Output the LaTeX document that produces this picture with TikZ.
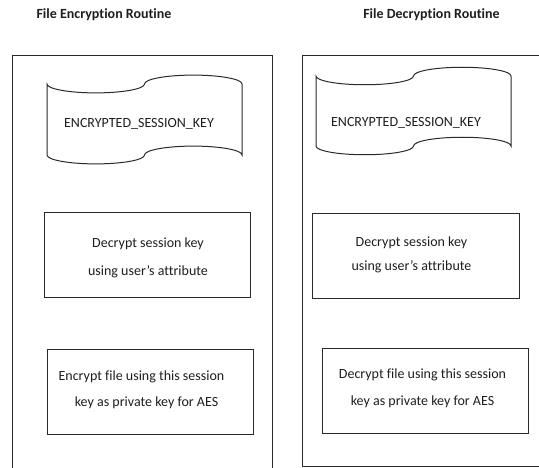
\documentclass[tikz,border=0pt]{standalone}
\usepackage{fontspec}
\setmainfont{Carlito}[Ligatures=NoCommon]
\definecolor{ink}{HTML}{1E1E1E}
\definecolor{edge}{HTML}{2A2A2A}

% Punched-tape outline: #1 left x, #2 width, #3 middle of top wave,
% #4 middle of bottom wave, #5 wave amplitude (px, y grows downwards)
\newcommand\punchtape[5]{%
  \draw[tapeline]
    (#1,#3)
    .. controls ({#1},{#3+0.5523*#5}) and ({#1+#2/4-0.5523*#2/4},{#3+#5}) .. ({#1+#2/4},{#3+#5})
    .. controls ({#1+#2/4+0.5523*#2/4},{#3+#5}) and ({#1+#2/2},{#3+0.5523*#5}) .. ({#1+#2/2},{#3})
    .. controls ({#1+#2/2},{#3-0.5523*#5}) and ({#1+3*#2/4-0.5523*#2/4},{#3-#5}) .. ({#1+3*#2/4},{#3-#5})
    .. controls ({#1+3*#2/4+0.5523*#2/4},{#3-#5}) and ({#1+#2},{#3-0.5523*#5}) .. ({#1+#2},{#3})
    -- ({#1+#2},{#4})
    .. controls ({#1+#2},{#4-0.5523*#5}) and ({#1+3*#2/4+0.5523*#2/4},{#4-#5}) .. ({#1+3*#2/4},{#4-#5})
    .. controls ({#1+3*#2/4-0.5523*#2/4},{#4-#5}) and ({#1+#2/2},{#4-0.5523*#5}) .. ({#1+#2/2},{#4})
    .. controls ({#1+#2/2},{#4+0.5523*#5}) and ({#1+#2/4+0.5523*#2/4},{#4+#5}) .. ({#1+#2/4},{#4+#5})
    .. controls ({#1+#2/4-0.5523*#2/4},{#4+#5}) and ({#1},{#4+0.5523*#5}) .. ({#1},{#4})
    -- cycle;}

\begin{document}
\begin{tikzpicture}[x=1pt,y=-1pt,
  frame/.style={draw=edge, line width=1pt},
  tapeline/.style={draw=edge, line width=1pt},
  procbox/.style={draw=edge, line width=1pt, rectangle, inner sep=0pt},
  title/.style={text=ink, font=\fontsize{14}{17}\selectfont\bfseries, inner sep=0pt},
  body/.style={text=ink, align=center, inner sep=0pt},
]
\useasboundingbox (0,0) rectangle (539,468);

% titles
\node[title] (encTitle) at (104,15) {File Encryption Routine};
\node[title] (decTitle) at (431.5,15) {File Decryption Routine};

% outer frames (both run past the page edges)
\draw[frame] (12,470) -- (12,56) -- (272,56) -- (272,470);
\draw[frame] (541,56) -- (302,56) -- (302,466) -- (541,466);

% encrypted session key, as punched tape
\punchtape{47}{195}{84}{155}{8.9}
\node[body, font=\fontsize{14}{17}\selectfont] (encKey) at (139,123.5) {ENCRYPTED\_SESSION\_KEY};
\punchtape{316}{195}{76}{146}{8.75}
\node[body, font=\fontsize{14}{17}\selectfont] (decKey) at (406,123) {ENCRYPTED\_SESSION\_KEY};

% encryption routine steps
\node[procbox, minimum width=206pt, minimum height=85pt] (encStepA) at (147,255.5) {};
\node[body, font=\fontsize{14}{28}\selectfont] (encTextA) at (148,258)
  {Decrypt session key\\ using user’s attribute};
\node[procbox, minimum width=206pt, minimum height=85pt] (encStepB) at (150,391.5) {};
\node[body, font=\fontsize{14}{26}\selectfont] (encTextB) at (141.5,390)
  {Encrypt file using this session\\ \hspace*{10pt}key as private key for AES};

% decryption routine steps
\node[procbox, minimum width=207pt, minimum height=85pt] (decStepA) at (415.5,256.5) {};
\node[body, font=\fontsize{14}{24}\selectfont] (decTextA) at (411.5,255)
  {Decrypt session key\\ using user’s attribute};
\node[procbox, minimum width=206pt, minimum height=85pt] (decStepB) at (425,390.5) {};
\node[body, font=\fontsize{14}{27}\selectfont] (decTextB) at (422.5,388.5)
  {Decrypt file using this session\\ key as private key for AES};
\end{tikzpicture}
\end{document}
